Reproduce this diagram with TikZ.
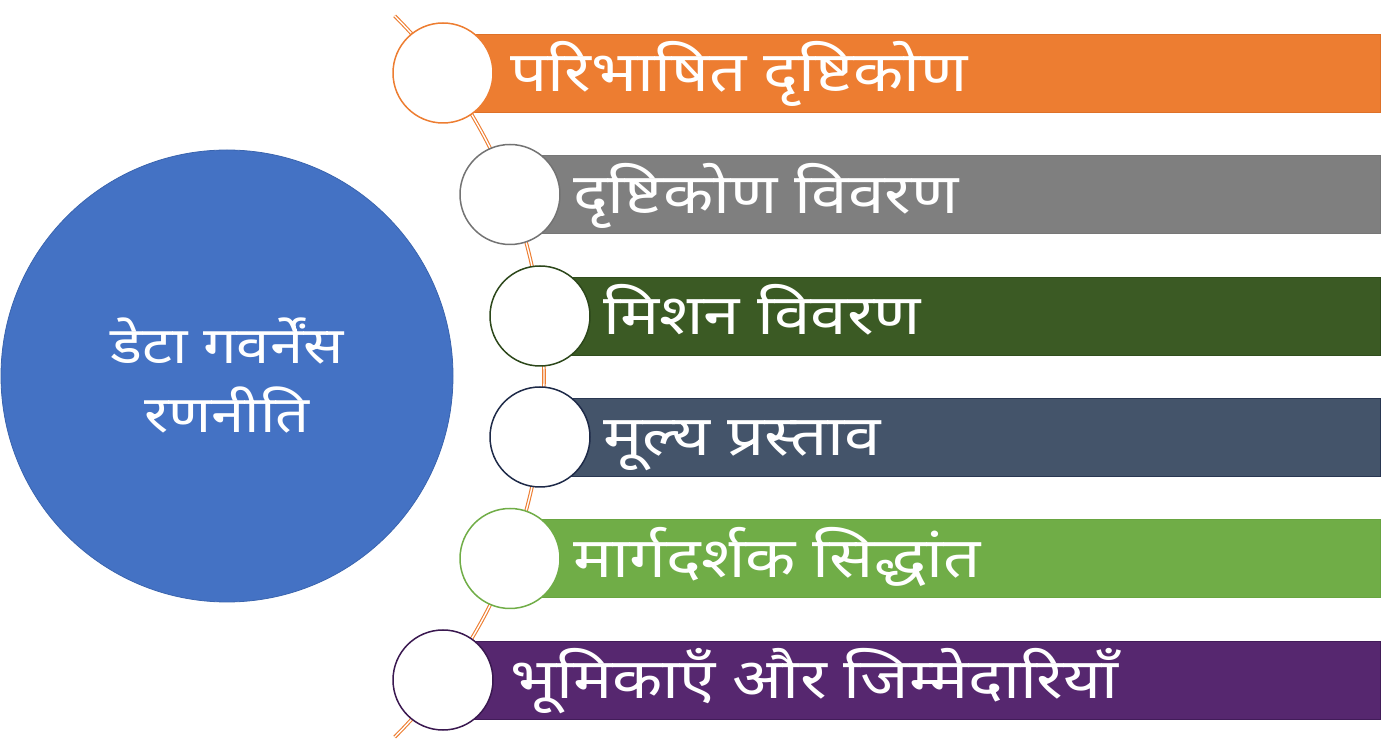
\documentclass[tikz,border=0pt]{standalone}
\usepackage{fontspec}
\newfontfamily\deva[Script=Devanagari, FakeStretch=1.17]{Noto Sans}
\definecolor{hubblue}{HTML}{4472C4}
\definecolor{hubedge}{HTML}{3A64AE}
\definecolor{cOrange}{HTML}{ED7D31}
\definecolor{cOrangeD}{HTML}{D86C24}
\definecolor{cGray}{HTML}{7F7F7F}
\definecolor{cGrayD}{HTML}{737373}
\definecolor{cDGreen}{HTML}{3B5A24}
\definecolor{cDGreenD}{HTML}{2C471A}
\definecolor{cSlate}{HTML}{44546A}
\definecolor{cSlateD}{HTML}{1E2A48}
\definecolor{cLGreen}{HTML}{70AD47}
\definecolor{cLGreenD}{HTML}{66A13E}
\definecolor{cPurple}{HTML}{56276F}
\definecolor{cPurpleD}{HTML}{3A1850}
\tikzset{
  hub/.style={circle, fill=hubblue, draw=hubedge, line width=0.8pt, minimum size=452pt, inner sep=0pt,
    text=white, align=center, font=\deva\fontsize{51}{69}\selectfont},
  ring/.style={circle, fill=white, draw=#1, line width=1.5pt, minimum size=100pt, inner sep=0pt},
  barlabel/.style={anchor=base west, text=white, inner sep=0pt, font=\deva\fontsize{56}{60}\selectfont},
  curveline/.style={draw=cOrange, double=white, line width=1.1pt, double distance=1.4pt},
}
\begin{document}
\begin{tikzpicture}[x=1pt,y=1pt]
\useasboundingbox (0,0) rectangle (1381,752);
% decorative arc
\draw[curveline] (34,375.5) ++(-45:510) arc[start angle=-45,end angle=45,radius=510];
% central circle
\node[hub] (hub) at (227,376) {डेटा गवर्नेंस\\रणनीति};
% bars
\foreach \cx/\cy/\fc/\dc in {443/679/cOrange/cOrangeD, 510/557.5/cGray/cGrayD, 540/436/cDGreen/cDGreenD,
  540/315/cSlate/cSlateD, 510/193.5/cLGreen/cLGreenD, 443/72/cPurple/cPurpleD}{
  \filldraw[fill=\fc, draw=\dc!70!\fc, line width=0.6pt] (\cx,\cy-39) rectangle (1380.5,\cy+39);
}
% rings
\node[ring=cOrange] (r1) at (443,679) {};
\node[ring=cGrayD] (r2) at (510,557.5) {};
\node[ring=cDGreenD] (r3) at (540,436) {};
\node[ring=cSlateD] (r4) at (540,315) {};
\node[ring=cLGreen] (r5) at (510,193.5) {};
\node[ring=cPurpleD] (r6) at (443,72) {};
% labels
\node[barlabel] (t1) at (510,679-19) {परिभाषित दृष्टिकोण};
\node[barlabel] (t2) at (573,557.5-19) {दृष्टिकोण विवरण};
\node[barlabel] (t3) at (603,436-19) {मिशन विवरण};
\node[barlabel] (t4) at (603,315-19) {मूल्य प्रस्ताव};
\node[barlabel] (t5) at (573,193.5-19) {मार्गदर्शक सिद्धांत};
\node[barlabel] (t6) at (510,72-19) {भूमिकाएँ और जिम्मेदारियाँ};
\end{tikzpicture}
\end{document}
